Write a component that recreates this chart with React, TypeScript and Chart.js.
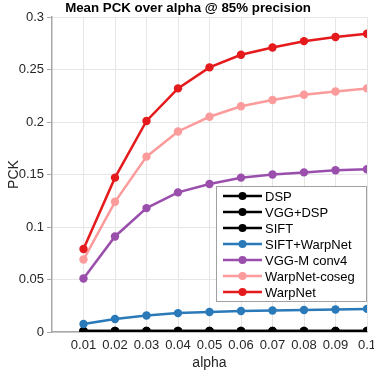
import React, { useEffect, useRef } from 'react';
import { Chart, registerables } from 'chart.js';
Chart.register(...registerables);

const alphas = [0.01, 0.02, 0.03, 0.04, 0.05, 0.06, 0.07, 0.08, 0.09, 0.1];
const dsp = [0.001, 0.001, 0.001, 0.001, 0.001, 0.001, 0.001, 0.001, 0.001, 0.001];
const vggDsp = [0.0009, 0.0009, 0.0009, 0.0009, 0.0009, 0.0009, 0.0009, 0.0009, 0.0009, 0.0009];
const sift = [0.0008, 0.0008, 0.0008, 0.0008, 0.0008, 0.0008, 0.0008, 0.0008, 0.0008, 0.0008];
const siftWarpNet = [0.0076, 0.0124, 0.0157, 0.018, 0.019, 0.02, 0.0205, 0.021, 0.0214, 0.022];
const vggConv4 = [0.051, 0.091, 0.118, 0.133, 0.141, 0.147, 0.15, 0.152, 0.154, 0.155];
const warpNetCoseg = [0.069, 0.124, 0.167, 0.191, 0.205, 0.215, 0.221, 0.226, 0.229, 0.232];
const warpNet = [0.079, 0.147, 0.201, 0.232, 0.252, 0.264, 0.271, 0.277, 0.281, 0.284];

const seriesNames = ['DSP', 'VGG+DSP', 'SIFT', 'SIFT+WarpNet', 'VGG-M conv4', 'WarpNet-coseg', 'WarpNet'];
const seriesValues = [dsp, vggDsp, sift, siftWarpNet, vggConv4, warpNetCoseg, warpNet];
const seriesColors = ['#000000', '#000000', '#000000', '#2a7ab9', '#9a4fac', '#fb9b9b', '#e41a1c'];

const titleText = 'Mean PCK over alpha @ 85% precision';
const FONT = "'Liberation Sans', Arial, Helvetica, sans-serif";

export default function App() {
  const ref = useRef<HTMLCanvasElement>(null);
  useEffect(() => {
    if (!ref.current) return;
    const overlay = {
      id: 'overlay',
      afterDraw(chart: any) {
        const ctx = chart.ctx;
        ctx.save();
        // title
        ctx.font = `bold 13.3px ${FONT}`;
        ctx.fillStyle = '#000';
        ctx.textAlign = 'center';
        ctx.textBaseline = 'middle';
        ctx.fillText(titleText, 188, 8);
        // legend
        const bx = 216, by = 186, bw = 150, bh = 115;
        ctx.fillStyle = '#fff';
        ctx.fillRect(bx, by, bw, bh);
        ctx.strokeStyle = '#a0a0a0';
        ctx.lineWidth = 1;
        ctx.strokeRect(bx + 0.5, by + 0.5, bw, bh);
        ctx.font = `13px ${FONT}`;
        ctx.textAlign = 'left';
        for (let i = 0; i < seriesNames.length; i++) {
          const y = by + 10 + i * 16;
          ctx.strokeStyle = seriesColors[i];
          ctx.lineWidth = 2.5;
          ctx.beginPath();
          ctx.moveTo(223, y);
          ctx.lineTo(262, y);
          ctx.stroke();
          ctx.fillStyle = seriesColors[i];
          ctx.beginPath();
          ctx.arc(242.5, y, 4, 0, Math.PI * 2);
          ctx.fill();
          ctx.fillStyle = '#000';
          ctx.fillText(seriesNames[i], 265, y + 1);
        }
        ctx.restore();
      },
    };
    const chart = new Chart(ref.current, {
      type: 'line',
      data: {
        datasets: seriesNames.map((name, i) => ({
          label: name,
          data: alphas.map((a, j) => ({ x: a, y: seriesValues[i][j] })),
          borderColor: seriesColors[i],
          backgroundColor: seriesColors[i],
          borderWidth: 2.5,
          pointRadius: 4.2,
          pointHoverRadius: 4.2,
          pointBorderWidth: 0,
          tension: 0,
          order: seriesNames.length - i,
        })),
      },
      options: {
        responsive: false,
        animation: false,
        devicePixelRatio: 1,
        layout: { padding: { top: 17, right: 7, left: 0, bottom: 0 } },
        plugins: { legend: { display: false }, title: { display: false }, tooltip: { enabled: false } },
        scales: {
          x: {
            type: 'linear',
            min: 0,
            max: 0.1,
            ticks: {
              stepSize: 0.01,
              color: '#262626',
              font: { family: FONT, size: 13 },
              padding: 2,
              maxRotation: 0,
              autoSkip: false,
              callback: (v: any) => Number(Number(v).toFixed(2)).toString(),
            },
            afterBuildTicks: (s: any) => {
              s.ticks = s.ticks.filter((t: any) => t.value > 0.001);
            },
            afterFit: (s: any) => {
              s.height = 39;
              s.paddingLeft = 0;
              s.paddingRight = 0;
            },
            grid: { color: '#e6e6e6', tickColor: 'rgba(0,0,0,0)', tickLength: 4, lineWidth: 1 },
            border: { color: '#a8a8a8', width: 1.5 },
            title: { display: true, text: 'alpha', color: '#262626', font: { family: FONT, size: 14 }, padding: { top: 0, bottom: -1 } },
          },
          y: {
            min: 0,
            max: 0.3,
            ticks: {
              stepSize: 0.05,
              color: '#262626',
              font: { family: FONT, size: 13 },
              padding: 3,
              callback: (v: any) => Number(Number(v).toFixed(2)).toString(),
            },
            afterFit: (s: any) => {
              s.width = 52;
              s.paddingTop = 0;
              s.paddingBottom = 0;
            },
            grid: { color: '#e6e6e6', tickColor: '#a8a8a8', tickLength: 5, lineWidth: 1 },
            border: { color: '#a8a8a8', width: 1.5 },
            title: { display: true, text: 'PCK', color: '#262626', font: { family: FONT, size: 14 }, padding: { top: 6, bottom: 0 } },
          },
        },
      },
      plugins: [overlay],
    });
    return () => chart.destroy();
  }, []);
  return (
    <div style={{ position: 'fixed', left: 0, top: 0, width: 374, height: 371, background: '#fff' }}>
      <canvas ref={ref} width={374} height={371} style={{ width: 374, height: 371, display: 'block' }} />
    </div>
  );
}
